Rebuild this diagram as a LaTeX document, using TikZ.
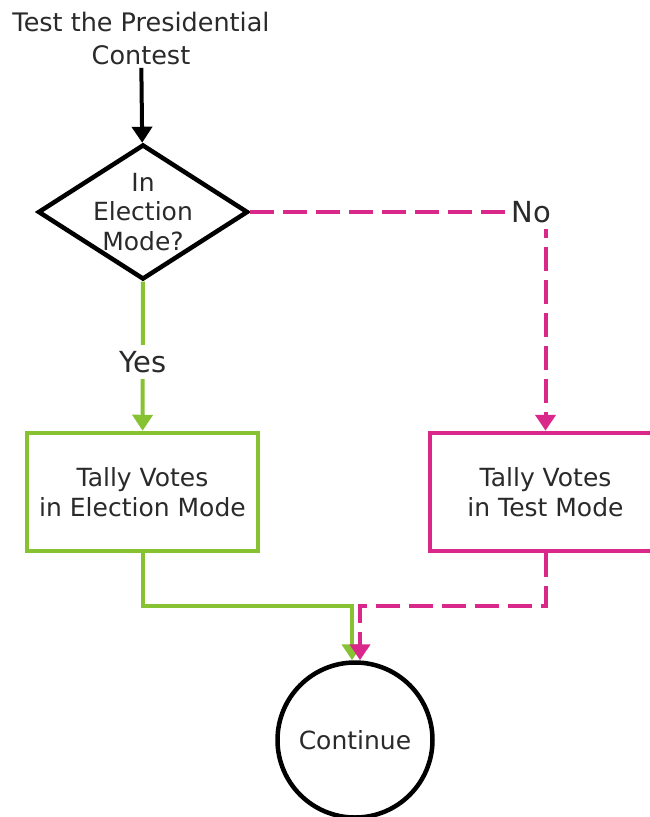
\documentclass[tikz,border=0pt]{standalone}
\usepackage{fontspec}
\setmainfont{DejaVu Sans}
\usetikzlibrary{arrows.meta,positioning,shapes.geometric}
\definecolor{VoteGreen}{HTML}{86C232}
\definecolor{VotePink}{HTML}{D9288A}
\definecolor{VoteInk}{HTML}{2A2A2A}

\begin{document}
\begin{tikzpicture}[
    x=1pt, y=-1pt,
    every node/.style={font=\fontsize{25}{30}\selectfont, text=VoteInk},
    decision/.style={
        diamond,
        aspect=1.556,
        draw=black,
        line width=4.5pt,
        minimum width=210pt,
        minimum height=135pt,
        inner sep=-6pt,
        align=center,
        font=\fontsize{25}{29.5}\selectfont
    },
    process/.style={
        rectangle,
        line width=4.5pt,
        minimum width=231pt,
        minimum height=118pt,
        align=center,
        fill=white
    },
    terminal/.style={
        circle,
        draw=black,
        line width=4.5pt,
        minimum size=155pt,
        inner sep=0pt
    },
    flow/.style={
        -{Triangle[length=16pt,width=20pt]},
        line width=4pt
    },
    yesflow/.style={flow, color=VoteGreen},
    noflow/.style={flow, color=VotePink, dash pattern=on 24pt off 9pt},
    tag/.style={fill=white, inner sep=6pt, font=\fontsize{29}{32}\selectfont}
]

\useasboundingbox (0,0) rectangle (649,817);

\node[align=center, font=\fontsize{25.5}{33}\selectfont] (title) at (141,38) {Test the Presidential\\Contest};

\node[decision] (decide) at (143,212) {In\\Election\\Mode?};

\node[process, draw=VoteGreen] (election) at (142.5,492) {Tally Votes\\in Election Mode};

\node[process, draw=VotePink] (testmode) at (545.5,492) {Tally Votes\\in Test Mode};

\node[terminal] (cont) at (355,740) {Continue};

\coordinate (merge) at (355,606);

\draw[flow] (title) -- (decide);
\draw[yesflow] (decide) -- node[tag, pos=0.54] {Yes} (election);
\draw[noflow] (decide.east) -| node[tag, pos=0.5, xshift=-14pt] {No} (testmode.north);
\draw[yesflow] (election.south) |- ([xshift=-3pt]merge) -- ([xshift=-3pt]cont.north);
\draw[noflow] (testmode.south) |- ([xshift=5pt]merge) -- ([xshift=5pt]cont.north);

\end{tikzpicture}
\end{document}
